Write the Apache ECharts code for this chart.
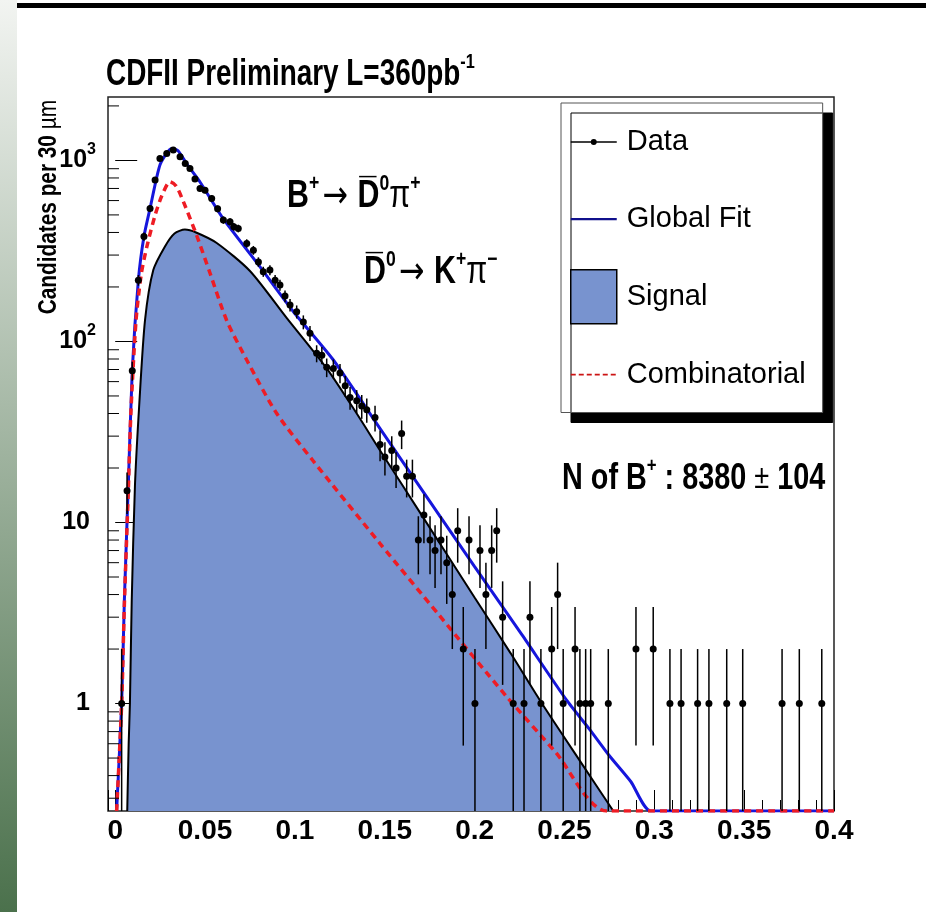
<!DOCTYPE html>
<html>
<head>
<meta charset="utf-8">
<style>
html, body { margin: 0; padding: 0; background: #fff; }
#main { width: 926px; height: 912px; }
</style>
<script src="https://cdn.jsdelivr.net/npm/echarts@6/dist/echarts.min.js"></script>
</head>
<body>
<div id="main"></div>
<script>
var FONT = '"Liberation Sans", Arial, sans-serif';

// axis ranges (proper decay length in cm, candidates per 30 um)
var xMin = -0.004, xMax = 0.4;
var yMin = 0.255, yMax = 2240;
var yMinorTicks = [0.3, 0.4, 0.5, 0.6, 0.7, 0.8, 0.9,
    2, 3, 4, 5, 6, 7, 8, 9,
    20, 30, 40, 50, 60, 70, 80, 90,
    200, 300, 400, 500, 600, 700, 800, 900, 2000];

// data points
var dataX = [0.0036, 0.0066, 0.0095, 0.0129, 0.0160, 0.0194, 0.0222, 0.0249, 0.0287, 0.0323,
    0.0361, 0.0390, 0.0416, 0.0444, 0.0472, 0.0500, 0.0537, 0.0570, 0.0602, 0.0639,
    0.0660, 0.0685, 0.0732, 0.0769, 0.0797, 0.0824, 0.0861, 0.0890, 0.0917, 0.0945,
    0.0973, 0.1010, 0.1047, 0.1084, 0.1121, 0.1150, 0.1177, 0.1214, 0.1251, 0.1280,
    0.1307, 0.1344, 0.1372, 0.1400, 0.1446, 0.1474, 0.1501, 0.1539, 0.1563, 0.1594,
    0.1622, 0.1654, 0.1687, 0.1718, 0.1752, 0.1780, 0.1813, 0.1845, 0.1876, 0.1906,
    0.1937, 0.1969, 0.2002, 0.2030, 0.2063, 0.2095, 0.2123, 0.2156, 0.2215, 0.2275,
    0.2308, 0.2369, 0.2429, 0.2462, 0.2493, 0.2559, 0.2586, 0.2618, 0.2646, 0.2744,
    0.2898, 0.2994, 0.3087, 0.3149, 0.3241, 0.3304, 0.3403, 0.3492, 0.3711, 0.3807,
    0.3932];
var dataY = [1, 15, 69, 218, 380, 543, 780, 1026, 1093, 1140,
    1047, 960, 903, 790, 700, 685, 617, 540, 468, 458,
    430, 421, 348, 319, 275, 243, 248, 218, 205, 178,
    159, 146, 128, 111, 86, 84, 72, 71, 67, 57,
    49, 47, 44, 42, 38, 27, 23, 25, 20, 31,
    18, 18, 8, 11, 8, 7, 8, 6, 4, 9,
    2, 8, 1, 7, 4, 7, 9, 3, 1, 1,
    3, 1, 2, 4, 1, 2, 1, 1, 1, 1,
    2, 2, 1, 1, 1, 1, 1, 1, 1, 1,
    1];

// global fit
var fitX = [0.0008, 0.0036, 0.0051, 0.0073, 0.0095, 0.0129, 0.016, 0.0194, 0.025, 0.0314,
    0.035, 0.04, 0.0472, 0.0602, 0.0806, 0.0992, 0.1214, 0.1474, 0.17, 0.2,
    0.2263, 0.2513, 0.264, 0.275, 0.287, 0.298, 0.4];
var fitY = [0.255, 1, 3.7, 16, 69, 218, 380, 543, 950, 1165,
    1130, 950, 760, 475, 258, 146, 79, 33, 15.5, 5.7,
    2.4, 1.04, 0.72, 0.515, 0.37, 0.255, 0.255];

// signal component
var signalX = [0.0067, 0.0075, 0.0082, 0.0092, 0.011, 0.0134, 0.0166, 0.0212, 0.0277, 0.033,
    0.0388, 0.045, 0.0565, 0.075, 0.0954, 0.1177, 0.1344, 0.1474, 0.17, 0.2,
    0.22, 0.2364, 0.26, 0.2772];
var signalY = [0.255, 0.6, 1.0, 3.7, 16, 45, 131, 248, 335, 395,
    415, 400, 350, 245, 135, 71, 40, 25, 11.2, 3.85,
    1.9, 1.04, 0.46, 0.255];

// combinatorial background
var combX = [0.0008, 0.0036, 0.0051, 0.0073, 0.0088, 0.0116, 0.0145, 0.0175, 0.022, 0.026,
    0.0305, 0.034, 0.038, 0.0453, 0.0528, 0.062, 0.0732, 0.0899, 0.11, 0.1474,
    0.18, 0.2179, 0.245, 0.2735, 0.4];
var combY = [0.255, 1, 3.5, 15, 41.7, 131, 235, 330, 490, 640,
    762, 720, 590, 386, 238, 131, 79, 40, 22, 7.65,
    3.1, 1.09, 0.54, 0.255, 0.255];

function pairs(xs, ys) {
    return xs.map(function (x, i) { return [x, ys[i]]; });
}

function annRich(size) {
    return {
        t: { fontSize: size, fontWeight: 'bold', fontFamily: FONT, fill: '#000', lineHeight: size + 10 },
        s: { fontSize: Math.round(size * 0.58), fontWeight: 'bold', fontFamily: FONT, fill: '#000', lineHeight: Math.round(size * 0.58), verticalAlign: 'top' },
        a: { fontSize: size, fontFamily: '"DejaVu Sans", sans-serif', fill: '#000', lineHeight: size + 10, padding: [0, 12, 0, 4] },
        p: { fontSize: size, fontFamily: FONT, fill: '#000', lineHeight: size + 10 },
        m: { fontSize: size - 2, fontFamily: FONT, fill: '#000', lineHeight: size + 10 }
    };
}

// condensed-looking text: normal font squeezed horizontally
function label(x, y, text, size, sx) {
    return {
        type: 'text', x: x, y: y, scaleX: sx || 0.8, z: 20,
        style: { text: text, align: 'left', verticalAlign: 'middle', rich: annRich(size) }
    };
}

myChart = echarts.init(document.getElementById('main'));

option = {
    backgroundColor: '#fff',
    animation: false,
    graphic: [{
        type: 'rect', x: 0, y: 0, z: -10,
        shape: { width: 17, height: 912 },
        style: {
            fill: new echarts.graphic.LinearGradient(0, 0, 0, 1, [
                { offset: 0, color: '#f2f4f1' },
                { offset: 1, color: '#4b714c' }
            ])
        }
    }, {
        type: 'rect', x: 17, y: 3, z: -10,
        shape: { width: 909, height: 5 },
        style: { fill: '#000' }
    },
    label(106, 75, '{t|CDFII Preliminary L=360pb}{s|-1}', 36, 0.775),
    label(287, 197, '{t|B}{s|+}{a|\u2192}{t|D\u0305}{s|0}{p|\u03c0}{s|+}', 38),
    label(364, 273, '{t|D\u0305}{s|0}{a|\u2192}{t|K}{s|+}{p|\u03c0}{s|\u2212}', 38),
    label(562, 479, '{t|N of B}{s|+}{t| : 8380 }{m|\u00b1}{t| 104}', 36),
    {
        type: 'text', x: 49, y: 100, rotation: Math.PI / 2, scaleX: 0.8,
        style: {
            text: '{b|Candidates per 30}{r| \u00b5m}',
            align: 'right', verticalAlign: 'middle',
            rich: {
                b: { fontSize: 26, fontWeight: 'bold', fontFamily: FONT, fill: '#000' },
                r: { fontSize: 26, fontFamily: FONT, fill: '#000' }
            }
        }
    }],
    legend: {
        orient: 'vertical',
        left: 561, top: 103,
        padding: [12, 17, 11, 9],
        itemWidth: 46, itemHeight: 54, itemGap: 23,
        backgroundColor: '#fff',
        borderColor: '#555', borderWidth: 1,
        shadowColor: '#000', shadowBlur: 0, shadowOffsetX: 10, shadowOffsetY: 10,
        selectedMode: false,
        textStyle: { fontSize: 29, fontFamily: FONT, color: '#000', padding: [0, 0, 0, 5] },
        data: [{
            name: 'Data',
            icon: 'path://M0,0 M46,54 M0,26.3 L46,26.3 L46,27.7 L0,27.7 Z M20,27 A3,3 0 1 1 26,27 A3,3 0 1 1 20,27 Z',
            itemStyle: { color: '#000', borderWidth: 0 }
        }, {
            name: 'Global Fit',
            icon: 'path://M0,0 M46,54 M0,26 L46,26 L46,28.2 L0,28.2 Z',
            itemStyle: { color: '#10108c', borderWidth: 0 }
        }, {
            name: 'Signal',
            icon: 'rect',
            itemStyle: { color: '#7893cf', borderColor: '#000', borderWidth: 1.5 }
        }, {
            name: 'Combinatorial',
            icon: 'path://M0,0 M46,54 M0,26.3 h5 v1.8 h-5 Z M8,26.3 h5 v1.8 h-5 Z M16,26.3 h5 v1.8 h-5 Z M24,26.3 h5 v1.8 h-5 Z M32,26.3 h5 v1.8 h-5 Z M40,26.3 h5 v1.8 h-5 Z',
            itemStyle: { color: '#cc1414', borderWidth: 0 }
        }]
    },
    grid: {
        left: 108, top: 97, right: 92, bottom: 101,
        show: true, borderColor: '#222', borderWidth: 1.5,
        backgroundColor: 'transparent'
    },
    xAxis: {
        type: 'value',
        min: xMin, max: xMax,
        splitNumber: 8,
        axisLine: { show: false },
        axisTick: { inside: true, length: 21, lineStyle: { color: '#000', width: 1 } },
        minorTick: { show: true, splitNumber: 5, length: 11, lineStyle: { color: '#000', width: 1 } },
        splitLine: { show: false },
        axisLabel: {
            showMinLabel: false,
            margin: 6,
            fontSize: 28, fontWeight: 'bold', fontFamily: FONT, color: '#000',
            formatter: function (v) {
                return Math.abs(v) < 1e-9 ? '0' : String(+v.toFixed(2));
            }
        }
    },
    yAxis: {
        type: 'log', logBase: 10,
        min: yMin, max: yMax,
        axisLine: { show: false },
        axisTick: { inside: true, length: 22, lineStyle: { color: '#000', width: 1 } },
        splitLine: { show: false },
        axisLabel: {
            showMinLabel: false, showMaxLabel: false,
            margin: 12,
            padding: [0, 0, 12, 0],
            formatter: function (v) {
                var e = Math.round(Math.log10(v));
                if (e <= 1) return '{b|' + Math.round(v) + '}{pad|}';
                return '{b|10}{sup|' + e + '}';
            },
            rich: {
                b: { fontSize: 25, fontWeight: 'bold', fontFamily: FONT, color: '#000', lineHeight: 26, padding: [12, 0, 0, 0] },
                sup: { fontSize: 16, fontWeight: 'bold', fontFamily: FONT, color: '#000', lineHeight: 16, verticalAlign: 'top' },
                pad: { width: 6 }
            }
        }
    },
    series: [{
        name: 'Signal',
        type: 'line',
        data: pairs(signalX, signalY),
        symbol: 'none',
        smooth: 0.25,
        lineStyle: { color: '#000', width: 2 },
        itemStyle: { color: '#7893cf' },
        areaStyle: { color: '#7893cf', opacity: 1 },
        z: 2
    }, {
        name: 'Global Fit',
        type: 'line',
        data: pairs(fitX, fitY),
        symbol: 'none',
        smooth: 0.2,
        lineStyle: { color: '#1616dc', width: 3 },
        itemStyle: { color: '#1616dc' },
        z: 3
    }, {
        name: 'Combinatorial',
        type: 'line',
        data: pairs(combX, combY),
        symbol: 'none',
        smooth: 0.25,
        lineStyle: { color: '#ee1c24', width: 3.5, type: [7, 5] },
        itemStyle: { color: '#ee1c24' },
        z: 4
    }, {
        name: 'Data',
        type: 'custom',
        data: pairs(dataX, dataY),
        itemStyle: { color: '#000' },
        clip: true,
        z: 5,
        renderItem: function (params, api) {
            var x = api.value(0), n = api.value(1), e = Math.sqrt(n);
            var lo = Math.max(n - e, yMin), hi = Math.min(n + e, yMax);
            var p = api.coord([x, n]), a = api.coord([x, lo]), b = api.coord([x, hi]);
            return {
                type: 'group',
                children: [{
                    type: 'line',
                    shape: { x1: a[0], y1: a[1], x2: b[0], y2: b[1] },
                    style: { stroke: '#000', lineWidth: 1.5 }
                }, {
                    type: 'circle',
                    shape: { cx: p[0], cy: p[1], r: 3.5 },
                    style: { fill: '#000' }
                }]
            };
        }
    }, {
        // minor ticks of the log axis (2..9 per decade)
        type: 'custom',
        data: yMinorTicks.map(function (v) { return [xMin, v]; }),
        silent: true,
        z: 6,
        renderItem: function (params, api) {
            var p = api.coord([xMin, api.value(1)]);
            return {
                type: 'line',
                shape: { x1: p[0], y1: p[1], x2: p[0] + 11, y2: p[1] },
                style: { stroke: '#000', lineWidth: 1 }
            };
        }
    }]
};

myChart.setOption(option);
</script>
</body>
</html>
